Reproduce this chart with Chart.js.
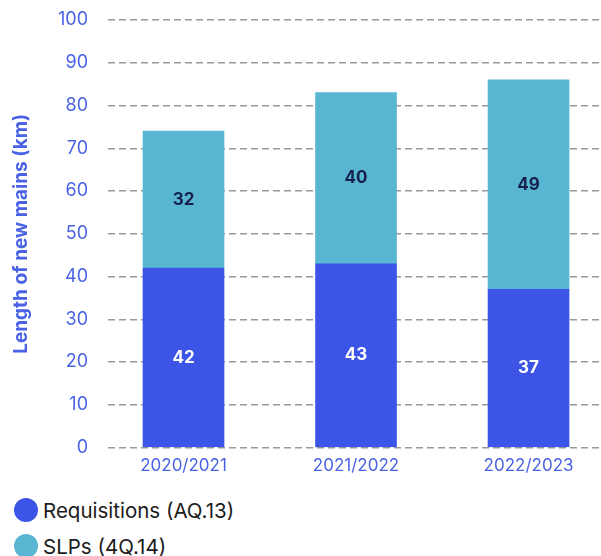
<!DOCTYPE html>
<html>
<head>
<meta charset="utf-8">
<script src="https://cdn.jsdelivr.net/npm/chart.js@4"></script>
<style>
    body { margin: 0; background: #fff; font-family: Inter, sans-serif; overflow: hidden; }
    #wrap { position: relative; width: 601px; height: 476px; }
    .legend { position: absolute; left: 14px; top: 492px; }
    .legend-item { display: flex; align-items: center; height: 36px; font-size: 20.5px; color: #1c1c1c; }
    .legend-item span.dot { width: 24px; height: 24px; border-radius: 50%; margin-right: 5px; }
</style>
</head>
<body>
<div id="wrap"><canvas id="mainsChart"></canvas></div>
<div class="legend" id="legend"></div>

<script>
'use strict';

const years = ['2020/2021', '2021/2022', '2022/2023'];
const requisitions = [42, 43, 37];
const slps = [32, 40, 49];

const BLUE = '#3c55e6';
const TEAL = '#58b6d2';
const AXIS_BLUE = '#4a63e6';

// Подписи значений в середине каждого сегмента
const segmentLabels = {
    id: 'segmentLabels',
    afterDatasetsDraw(chart) {
        const ctx = chart.ctx;
        ctx.save();
        ctx.font = 'bold 17px Inter, sans-serif';
        ctx.textAlign = 'center';
        ctx.textBaseline = 'middle';
        chart.data.datasets.forEach((ds, i) => {
            chart.getDatasetMeta(i).data.forEach((bar, j) => {
                const { x, y, base } = bar.getProps(['x', 'y', 'base'], true);
                ctx.fillStyle = ds.labelColor;
                ctx.fillText(ds.data[j].y, x, (y + base) / 2);
            });
        });
        ctx.restore();
    }
};

function buildLegend(datasets) {
    const box = document.getElementById('legend');
    datasets.forEach(ds => {
        const item = document.createElement('div');
        item.className = 'legend-item';
        item.innerHTML = `<span class="dot" style="background:${ds.backgroundColor}"></span>${ds.label}`;
        box.appendChild(item);
    });
}

const datasets = [
    {
        label: 'Requisitions (AQ.13)',
        data: requisitions.map((v, i) => ({ x: i, y: v })),
        backgroundColor: BLUE,
        labelColor: '#ffffff',
        barThickness: 81
    },
    {
        label: 'SLPs (4Q.14)',
        data: slps.map((v, i) => ({ x: i, y: v })),
        backgroundColor: TEAL,
        labelColor: '#15214c',
        barThickness: 81
    }
];

new Chart(document.getElementById('mainsChart'), {
    type: 'bar',
    data: { datasets },
    options: {
        responsive: true,
        maintainAspectRatio: false,
        animation: false,
        layout: { padding: { top: 20, right: 0, bottom: 0, left: 0 } },
        plugins: {
            legend: { display: false },
            tooltip: { enabled: false }
        },
        scales: {
            x: {
                type: 'linear',
                stacked: true,
                offset: false,
                min: -0.4377,
                max: 2.42,
                grid: { display: false },
                border: { display: false },
                afterBuildTicks: scale => { scale.ticks = years.map((_, i) => ({ value: i })); },
                ticks: {
                    color: AXIS_BLUE,
                    font: { family: 'Inter', size: 17 },
                    padding: 0,
                    maxRotation: 0,
                    autoSkip: false,
                    callback: v => years[v]
                }
            },
            y: {
                stacked: true,
                min: 0,
                max: 100,
                afterFit: scale => {
                    scale.width = 108;
                    scale.paddingTop = 0;
                    scale.paddingBottom = 0;
                },
                grid: {
                    color: '#9a9a9a',
                    lineWidth: 1.5,
                    drawTicks: false
                },
                border: { display: false, dash: [7, 4] },
                ticks: {
                    stepSize: 10,
                    color: AXIS_BLUE,
                    padding: 20,
                    font: { family: 'Inter', size: 18 }
                },
                title: {
                    display: true,
                    text: 'Length of new mains (km)',
                    color: AXIS_BLUE,
                    font: { family: 'Inter', size: 19, weight: 'bold' },
                    padding: { top: 10, bottom: 0 }
                }
            }
        }
    },
    plugins: [segmentLabels]
});

buildLegend(datasets);
</script>
</body>
</html>
